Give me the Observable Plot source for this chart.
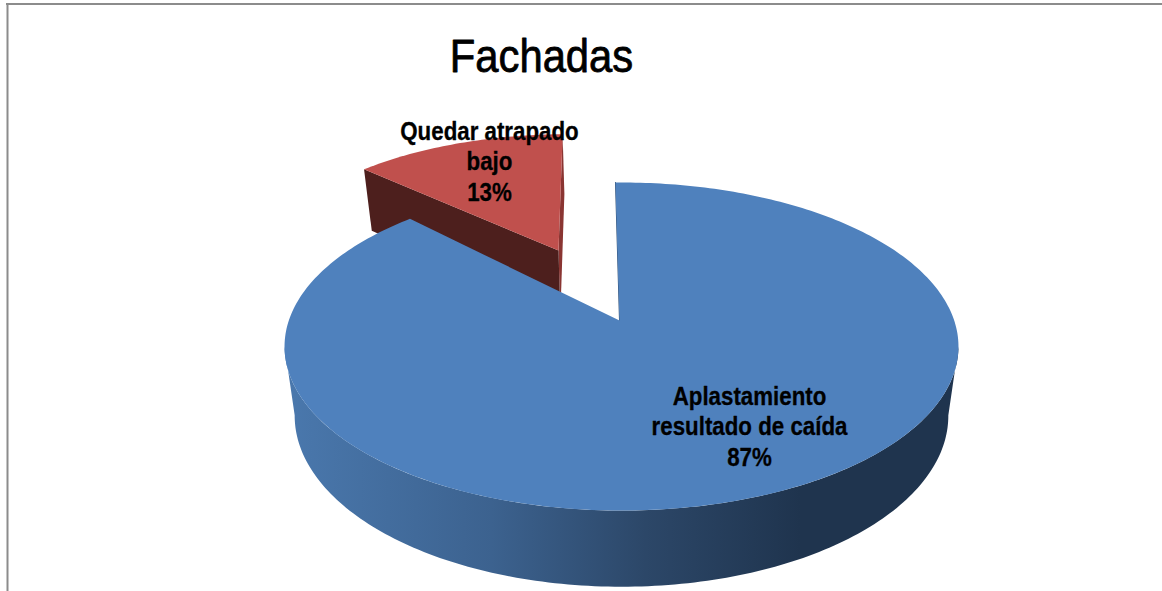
<!DOCTYPE html>
<html><head><meta charset="utf-8">
<script src="https://cdn.jsdelivr.net/npm/d3@7"></script>
<script src="https://cdn.jsdelivr.net/npm/@observablehq/plot@0.6"></script>
<style>html,body{margin:0;padding:0;background:#fff}svg{display:block}</style>
</head><body><div id="chart"></div>
<script>
// Data
const chartTitle = "Fachadas";
const categories = ["Aplastamiento\nresultado de caída", "Quedar atrapado\nbajo"];
const values = [87, 13];
// Layout of the perspective pie
const cx = 621, cy = 320, k = 0.1586, fTop = 332.7, gTop = 159.9;
const fBot = 322.7, gBot = 166.8, cyBot = 388, rot = -1.2, apexShiftX = -2;
const blueEndNudge = 3, redEndNudge = 0;
const explode = [{dx:0,dy:0,r:1}, {dx:-0.197,dy:0.47,r:0.96}];
const rad = d => d * Math.PI / 180;
function rimPoint(s, deg, plane, radius) {
  const rr = radius === undefined ? s.r : radius;
  const X = rr * Math.sin(rad(deg)) + s.dx, Y = rr * Math.cos(rad(deg)) + s.dy;
  const w = 1 + k * Y;
  return plane === "top"
    ? {x: cx + fTop * X / w, y: cy - gTop * Y / w}
    : {x: cx + fBot * X / w, y: cyBot - gBot * Y / w};
}
function arc(s, a0, a1, plane) {
  const n = Math.max(2, Math.ceil(Math.abs(a1 - a0)));
  return d3.range(n + 1).map(i => rimPoint(s, a0 + (a1 - a0) * i / n, plane));
}
const sweep = values.map(v => v / d3.sum(values) * 360);
const a0 = rot, a1 = rot + sweep[0], a2 = a1 + sweep[1];
const apex = (s, plane) => { const p = rimPoint(s, 0, plane, 0); return {x: p.x + apexShiftX, y: p.y}; };
const blue = explode[0], red = explode[1];

const blueTop = [apex(blue,"top"), ...arc(blue, a0, a1 + blueEndNudge, "top")];
const blueWall = [...arc(blue, 99, 261, "top"), ...arc(blue, 261, 99, "bot")];
const redCorner = a1 + redEndNudge;
const redTop = [apex(red,"top"), ...arc(red, redCorner, a2, "top")];
const redFace = [rimPoint(red,redCorner,"top"), apex(red,"top"), apex(red,"bot"), rimPoint(red,redCorner,"bot")];
const redEnd = [rimPoint(red,a2,"top"), apex(red,"top"), apex(red,"bot"), rimPoint(red,a2,"bot")];
const blueEdge = [rimPoint(blue,a0,"top"), apex(blue,"top")];

const gradient = () => {
  const svg = d3.create("svg:g");
  const g = svg.append("defs").append("linearGradient").attr("id","wall")
    .attr("gradientUnits","userSpaceOnUse").attr("x1",285).attr("x2",800).attr("y1",0).attr("y2",0);
  [[0,"#4a78ad"],[0.4,"#3c628f"],[0.7,"#2c4768"],[1,"#1f344e"]].forEach(([o,c]) =>
    g.append("stop").attr("offset",o).attr("stop-color",c));
  return svg.node();
};
const poly = (pts, fill, extra={}) => Plot.line(pts, {x:"x", y:"y", fill, stroke:"none", ...extra});

const labels = [
  {text:`${categories[0]}\n${values[0]}%`, x:749, y:425},
  {text:`${categories[1]}\n${values[1]}%`, x:489, y:160}
];
const plot = Plot.plot({
  width:1162, height:591, margin:0,
  x:{domain:[0,1162], range:[0,1162], axis:null},
  y:{domain:[0,591], range:[0,591], axis:null},
  style:{background:"#fff"},
  marks:[
    gradient,
    Plot.ruleY([3.5], {x1:6, x2:1162, stroke:"#8c8c8c", strokeWidth:2}),
    Plot.ruleX([7], {y1:3, y2:591, stroke:"#8c8c8c", strokeWidth:2}),
    poly(redEnd, "#8a3532"),
    poly(redFace, "#4d1f1d"),
    poly(redTop, "#c0504d"),
    poly(blueWall, "url(#wall)"),
    Plot.line(blueEdge, {x:"x", y:"y", stroke:"#2f4f75", strokeWidth:1}),
    poly(blueTop, "#4f81bd"),
    Plot.text([chartTitle], {x:()=>541, y:()=>56, text:d=>d, fontFamily:"'Liberation Sans'", fontSize:47, fill:"#000", stroke:"#000", strokeWidth:0.8, className:"squeeze-title"}),
    Plot.text(labels, {x:"x", y:"y", text:"text", lineHeight:1.17, fontFamily:"'Liberation Sans'", fontWeight:"bold", fontSize:26, fill:"#000", stroke:"#000", strokeWidth:0.3, className:"squeeze-label"})
  ]
});
// The reference uses a condensed face: narrow the installed font horizontally.
const squeeze = (sel, sx) => plot.querySelectorAll(sel).forEach(t =>
  t.setAttribute("transform", `${t.getAttribute("transform") || ""} scale(${sx},1)`));
squeeze(".squeeze-title text", 0.888);
squeeze(".squeeze-label text", 0.858);
document.getElementById("chart").append(plot);
</script></body></html>
